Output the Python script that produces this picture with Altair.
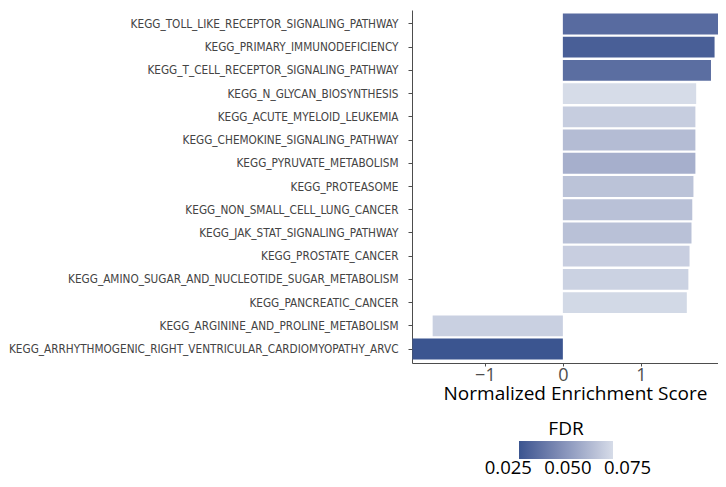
import altair as alt
import pandas as pd

pathways = [
    "KEGG_TOLL_LIKE_RECEPTOR_SIGNALING_PATHWAY",
    "KEGG_PRIMARY_IMMUNODEFICIENCY",
    "KEGG_T_CELL_RECEPTOR_SIGNALING_PATHWAY",
    "KEGG_N_GLYCAN_BIOSYNTHESIS",
    "KEGG_ACUTE_MYELOID_LEUKEMIA",
    "KEGG_CHEMOKINE_SIGNALING_PATHWAY",
    "KEGG_PYRUVATE_METABOLISM",
    "KEGG_PROTEASOME",
    "KEGG_NON_SMALL_CELL_LUNG_CANCER",
    "KEGG_JAK_STAT_SIGNALING_PATHWAY",
    "KEGG_PROSTATE_CANCER",
    "KEGG_AMINO_SUGAR_AND_NUCLEOTIDE_SUGAR_METABOLISM",
    "KEGG_PANCREATIC_CANCER",
    "KEGG_ARGININE_AND_PROLINE_METABOLISM",
    "KEGG_ARRHYTHMOGENIC_RIGHT_VENTRICULAR_CARDIOMYOPATHY_ARVC",
]
nes = [1.99, 1.946, 1.90, 1.71, 1.70, 1.70, 1.70, 1.675, 1.66, 1.65, 1.625, 1.61, 1.59, -1.67, -1.93]
fdr = [0.0285, 0.020, 0.030, 0.099, 0.090, 0.080, 0.072, 0.084, 0.083, 0.083, 0.091, 0.093, 0.097, 0.092, 0.013]
x_ticks = [-1, 0, 1]
legend_ticks = [0.025, 0.05, 0.075]
legend_labels = ["0.025", "0.050", "0.075"]

df = pd.DataFrame({"Pathway": pathways, "NES": nes, "FDR": fdr})
legend_df = pd.DataFrame({"v": legend_ticks, "lab": legend_labels})

label_font = "DejaVu Sans Condensed, Liberation Sans Narrow, sans-serif"
main_font = "Open Sans, Noto Sans, Lato, sans-serif"

bars = alt.Chart(df).mark_bar(clip=True).encode(
    x=alt.X(
        "NES:Q",
        scale=alt.Scale(domain=[-1.935, 1.99], nice=False, zero=False),
        axis=alt.Axis(
            values=x_ticks, format="d", title="Normalized Enrichment Score", grid=False,
            labelFont=main_font, labelFontSize=18, labelColor="#4d4d4d",
            titleFont=main_font, titleFontSize=19, titleFontWeight="normal", titleColor="black",
            titleX=163, titleY=36, titleBaseline="alphabetic",
            domainColor="#4d4d4d", tickColor="#4d4d4d", tickSize=3, labelPadding=0,
        ),
    ),
    y=alt.Y(
        "Pathway:N", sort=pathways,
        scale=alt.Scale(paddingInner=0.1, paddingOuter=0.15),
        axis=alt.Axis(
            title=None, labelFont=label_font, labelFontSize=11.7, labelColor="#444444",
            domainColor="#4d4d4d", tickColor="#4d4d4d", tickSize=4, labelPadding=10, labelLimit=500,
        ),
    ),
    color=alt.Color(
        "FDR:Q",
        scale=alt.Scale(range=["#3b5590", "#d6dce8"], domain=[min(fdr), max(fdr)], interpolate="lab"),
        legend=alt.Legend(
            orient="none", legendX=107, legendY=410, direction="horizontal", padding=0,
            gradientLength=94, gradientThickness=18, gradientStrokeWidth=0,
            title="FDR", titleOrient="top", titleAnchor="middle", titleFont=main_font,
            titleFontSize=19, titleFontWeight="normal", titleColor="black", titlePadding=2,
            values=legend_ticks, labelExpr="''", labelOverlap=False,
        ),
    ),
)

legend_text = alt.Chart(legend_df).mark_text(
    font=main_font, fontSize=18.5, baseline="alphabetic", align="center", color="black"
).encode(
    x=alt.X("v:Q", scale=alt.Scale(domain=[0.025, 0.075], range=[96.3, 215.5]), axis=None),
    y=alt.value(464),
    text="lab:N",
)

chart = alt.layer(bars, legend_text).resolve_scale(x="independent").properties(
    width=306, height=353,
    padding={"left": 404, "top": 2, "right": 0, "bottom": 115},
    autosize="none",
).configure_view(stroke=None)

chart.save("out.html", embed_options={"renderer": "svg", "actions": False})
